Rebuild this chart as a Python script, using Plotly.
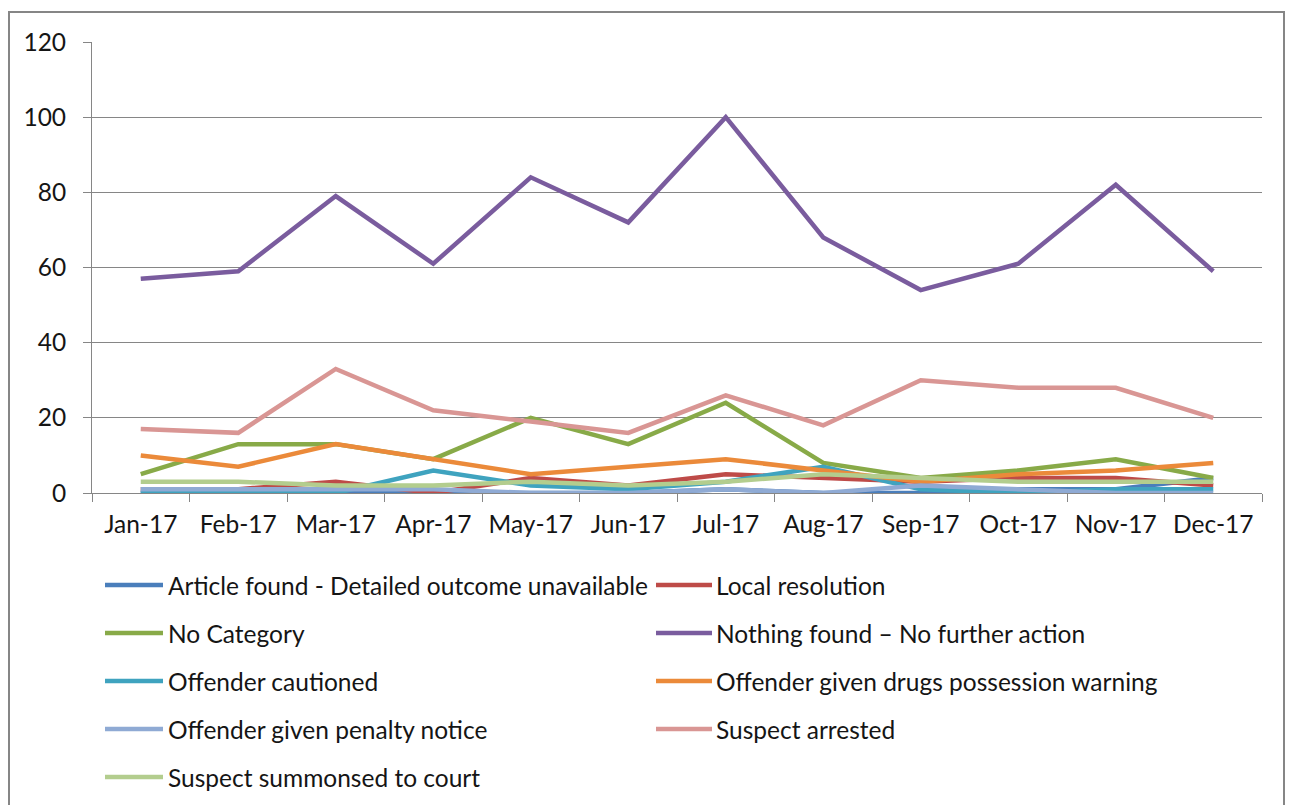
import plotly.graph_objects as go

months = ["Jan-17", "Feb-17", "Mar-17", "Apr-17", "May-17", "Jun-17",
          "Jul-17", "Aug-17", "Sep-17", "Oct-17", "Nov-17", "Dec-17"]

article_found = [0, 0, 0, 0, 0, 0, 1, 0, 0, 1, 1, 4]
local_resolution = [1, 1, 3, 0, 4, 2, 5, 4, 3, 4, 4, 2]
no_category = [5, 13, 13, 9, 20, 13, 24, 8, 4, 6, 9, 4]
nothing_found = [57, 59, 79, 61, 84, 72, 100, 68, 54, 61, 82, 59]
offender_cautioned = [0, 0, 0, 6, 2, 1, 3, 7, 1, 0, 1, 1]
drugs_warning = [10, 7, 13, 9, 5, 7, 9, 6, 3, 5, 6, 8]
penalty_notice = [1, 1, 1, 1, 0, 0, 1, 0, 2, 1, 0, 0]
suspect_arrested = [17, 16, 33, 22, 19, 16, 26, 18, 30, 28, 28, 20]
suspect_summoned = [3, 3, 2, 2, 3, 2, 3, 5, 4, 3, 3, 3]

series_names = [
    "Article found - Detailed outcome unavailable",
    "Local resolution",
    "No Category",
    "Nothing found \u2013 No further action",
    "Offender cautioned",
    "Offender given drugs possession warning",
    "Offender given penalty notice",
    "Suspect arrested",
    "Suspect summonsed to court",
]
series_values = [article_found, local_resolution, no_category, nothing_found,
                 offender_cautioned, drugs_warning, penalty_notice,
                 suspect_arrested, suspect_summoned]
series_colors = ["#4A7EBB", "#BE4B48", "#88AA48", "#7A5C9E", "#3FA3BF",
                 "#EB8A3A", "#8FAAD4", "#D99694", "#B3CD8E"]

FONT = "Lato"
FS = 24.5
TXT = "#151515"
# page is offset by 8px of body margin; work in figure pixels
OFF = 8
W, H = 1277, 797
L, R, T, B = 92 - OFF, 1262 - OFF, 42 - OFF, 493 - OFF
PW, PH = R - L, B - T

fig = go.Figure()
for name, vals, col in zip(series_names, series_values, series_colors):
    fig.add_trace(go.Scatter(x=months, y=vals, name=name, mode="lines",
                             line=dict(color=col, width=4.5),
                             showlegend=False))


def px_x(px):
    return (px - OFF - L) / PW


def px_y(py):
    return (B - (py - OFF)) / PH


# manual legend, two columns (reference pixel positions)
rows_y = [585, 633, 681, 729, 777]
cols = [(105, 163, 166), (656, 712, 714)]
for i, (name, col) in enumerate(zip(series_names, series_colors)):
    r, c = divmod(i, 2)
    x0, x1, tx = cols[c]
    y = rows_y[r]
    fig.add_shape(type="line", xref="paper", yref="paper",
                  x0=px_x(x0), x1=px_x(x1), y0=px_y(y), y1=px_y(y),
                  line=dict(color=col, width=4.5))
    fig.add_annotation(xref="paper", yref="paper", x=px_x(tx), y=px_y(y),
                       text=name, showarrow=False, xanchor="left",
                       yanchor="middle",
                       font=dict(family=FONT, size=FS, color=TXT))

# outer chart border
fig.add_shape(type="rect", xref="paper", yref="paper",
              x0=px_x(9), x1=px_x(1284), y0=px_y(830), y1=px_y(12),
              line=dict(color="#868686", width=2), fillcolor="rgba(0,0,0,0)",
              layer="below")

fig.update_layout(
    width=W, height=H,
    margin=dict(l=L, r=W - R, t=T, b=H - B),
    paper_bgcolor="white", plot_bgcolor="white",
    font=dict(family=FONT, size=FS, color=TXT),
    xaxis=dict(type="category", range=[-0.5, 11.5], tickson="boundaries",
               ticks="outside", ticklen=8, tickcolor="#868686",
               showline=True, linecolor="#868686", linewidth=1,
               showgrid=False, ticklabelstandoff=10,
               tickfont=dict(family=FONT, size=FS, color=TXT)),
    yaxis=dict(range=[0, 120], dtick=20, ticks="outside", ticklen=8,
               tickcolor="#868686", showline=True, linecolor="#868686",
               linewidth=1, showgrid=True, gridcolor="#868686", gridwidth=1,
               zeroline=False, ticklabelstandoff=12,
               tickfont=dict(family=FONT, size=FS, color=TXT)),
)

fig.write_html("out.html")
